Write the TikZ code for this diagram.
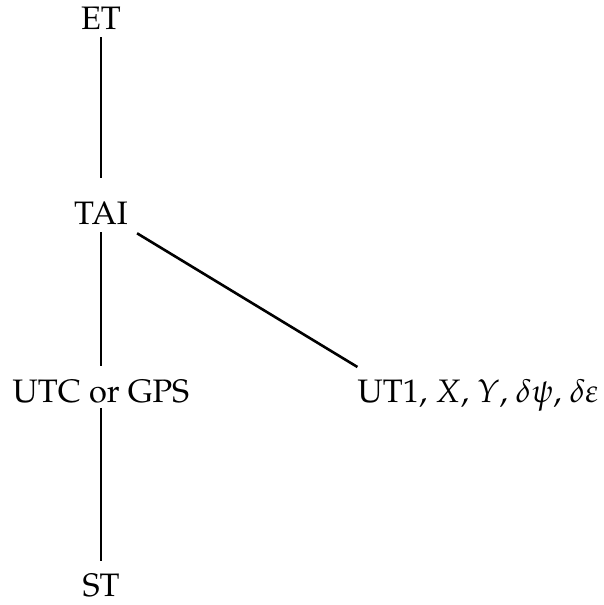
\documentclass[tikz,border=0pt]{standalone}
\usepackage[T1]{fontenc}
\usepackage{mathpazo}
\begin{document}
\begin{tikzpicture}[x=1pt,y=-1pt,
  lbl/.style={inner sep=0pt,anchor=base,font=\fontsize{32.5}{39}\selectfont},
  link/.style={line width=2.6pt}]
\useasboundingbox (0,0) rectangle (603,605);
\node[lbl] (et)  at (101,29)  {ET};
\node[lbl] (tai) at (101,224) {TAI};
\node[lbl] (utc) at (101,402) {UTC or GPS};
\node[lbl] (st)  at (101,596) {ST};
\node[lbl] (ut1) at (478,402) {UT1, $X$, $Y$, $\delta\psi$, $\delta\varepsilon$};
% time-scale links
\draw[link] ([yshift=-8pt]et.south) -- ([yshift=23pt]tai.north);
\draw[link] ([yshift=-8pt]tai.south) -- ([yshift=13pt]utc.north);
\draw[link] ([yshift=-5pt]utc.south) -- ([yshift=12pt]st.north);
\draw[link] ([shift={(9,9)}]tai.south east) -- ([shift={(0,-35)}]ut1.base west);
\end{tikzpicture}
\end{document}
